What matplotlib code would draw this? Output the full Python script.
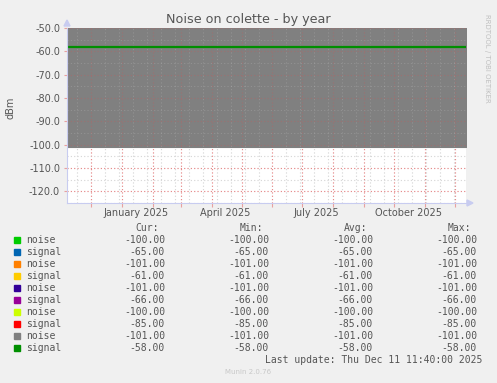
import matplotlib
matplotlib.use("Agg")
import matplotlib.pyplot as plt
import matplotlib.dates as mdates
import matplotlib.ticker as mticker
import pandas as pd

span = ["2024-11-07", "2025-12-12"]
names = ["noise", "signal", "noise", "signal", "noise",
         "signal", "noise", "signal", "noise", "signal"]
colors = ["#00CC00", "#0066B3", "#FF8000", "#FFCC00", "#330099",
          "#990099", "#CCFF00", "#FF0000", "#808080", "#008F00"]
cur = [-100, -65, -101, -61, -101, -66, -100, -85, -101, -58]
mins = [-100, -65, -101, -61, -101, -66, -100, -85, -101, -58]
avgs = [-100, -65, -101, -61, -101, -66, -100, -85, -101, -58]
maxs = [-100, -65, -101, -61, -101, -66, -100, -85, -101, -58]
xlabels = ["January 2025", "April 2025", "July 2025", "October 2025"]
xlabel_dates = ["2025-01-15", "2025-04-15", "2025-07-15", "2025-10-15"]

W, H = 497, 383
BG = "#F0F0F0"
TXT = "#555555"
AXC = "#C8CCF0"
MGRID = "#E8A0A0"
GRID = "#D0D0D0"
DOT = (0, (1, 2))

fig = plt.figure(figsize=(W / 100, H / 100), dpi=100, facecolor=BG)
ax = fig.add_axes([67 / W, (H - 203) / H, 399 / W, 175 / H])
ax.set_facecolor("white")

t = pd.to_datetime(span)
for i, (c, v) in enumerate(zip(colors, cur)):
    vals = [v, v]
    if i == 8:
        # grey noise is drawn as an area that hides the earlier lines
        ax.fill_between(t, vals, 0, facecolor=c, edgecolor=c, lw=0.8,
                        zorder=1)
    elif i == 9:
        ax.plot(t, vals, color=c, lw=1.6, zorder=4)
    else:
        ax.plot(t, vals, color=c, lw=0.5, zorder=0.8)

ax.set_xlim(t[0], t[1])
ax.set_ylim(-125, -50)

ax.set_axisbelow(True)
ax.yaxis.set_major_locator(mticker.MultipleLocator(10))
ax.yaxis.set_minor_locator(mticker.MultipleLocator(5))
ax.yaxis.set_major_formatter(mticker.FormatStrFormatter("%.1f"))
ax.xaxis.set_major_locator(mdates.MonthLocator(bymonthday=1))
ax.xaxis.set_major_formatter(mticker.NullFormatter())
weeks = pd.date_range("2024-11-17", "2025-12-11", freq="14D")
ax.xaxis.set_minor_locator(mticker.FixedLocator(mdates.date2num(weeks)))
ax.grid(which="major", color=MGRID, ls=DOT, lw=0.8)
ax.grid(which="minor", color=GRID, ls=DOT, lw=0.8)
ax.tick_params(axis="y", which="major", length=2, color=MGRID,
               labelsize=7, labelcolor=TXT, pad=3)
ax.tick_params(axis="x", which="major", length=3, color=MGRID,
               direction="out")
ax.tick_params(which="minor", length=0)

# faint copy of the grid on top of the grey area
faint_major = (0.88, 0.31, 0.31, 0.3)
faint_minor = (1, 1, 1, 0.15)
for y in ax.yaxis.get_minorticklocs():
    ax.axhline(y, color=faint_minor, ls=DOT, lw=0.8, zorder=2)
for x in ax.xaxis.get_minorticklocs():
    ax.axvline(x, color=faint_minor, ls=DOT, lw=0.8, zorder=2)
for y in ax.yaxis.get_majorticklocs():
    ax.axhline(y, color=faint_major, ls=DOT, lw=0.8, zorder=2)
for x in ax.xaxis.get_majorticklocs():
    ax.axvline(x, color=faint_major, ls=DOT, lw=0.8, zorder=2)

for s in ["top", "right"]:
    ax.spines[s].set_visible(False)
for s in ["left", "bottom"]:
    ax.spines[s].set_color(AXC)
    ax.spines[s].set_zorder(5)

for lab, d in zip(xlabels, xlabel_dates):
    ax.text(mdates.date2num(pd.Timestamp(d)), -0.03, lab,
            transform=ax.get_xaxis_transform(), ha="center", va="top",
            fontsize=7, color=TXT)

# axis arrows
fig.patches.append(plt.Polygon([[64 / W, (H - 26) / H], [70 / W, (H - 26) / H],
                                [67 / W, (H - 20) / H]], closed=True,
                               transform=fig.transFigure, color=AXC))
fig.patches.append(plt.Polygon([[467 / W, (H - 200) / H], [467 / W, (H - 206) / H],
                                [473 / W, (H - 203) / H]], closed=True,
                               transform=fig.transFigure, color=AXC))

fig.text(248 / W, 1 - 19 / H, "Noise on colette - by year", ha="center",
         va="center", fontsize=9.2, color=TXT)
fig.text(10 / W, 1 - 108 / H, "dBm", rotation=90, ha="center", va="center",
         fontsize=7, color=TXT)
fig.text(487 / W, 1 - 58 / H, "RRDTOOL / TOBI OETIKER", rotation=270,
         ha="center", va="center", fontsize=5, color="#C0C0C0")

# legend table
mono = "DejaVu Sans Mono"
cols_x = [165, 269, 373, 477]
for x, head in zip(cols_x, ["Cur:", "Min:", "Avg:", "Max:"]):
    fig.text((x - 6) / W, 1 - 228 / H, head, ha="right", va="center",
             fontsize=7, family=mono, color=TXT)
for k, name in enumerate(names):
    y = 1 - (240 + 12 * k) / H
    fig.patches.append(plt.Rectangle((14 / W, y - 3 / H), 6 / W, 6 / H,
                                     transform=fig.transFigure,
                                     color=colors[k]))
    fig.text(26 / W, y, name, ha="left", va="center", fontsize=7,
             family=mono, color=TXT)
    for x, arr in zip(cols_x, [cur, mins, avgs, maxs]):
        fig.text(x / W, y, f"{arr[k]:.2f}", ha="right", va="center",
                 fontsize=7, family=mono, color=TXT)

fig.text(482 / W, 1 - 360 / H, "Last update: Thu Dec 11 11:40:00 2025",
         ha="right", va="center", fontsize=7, family=mono, color=TXT)
fig.text(248 / W, 1 - 372 / H, "Munin 2.0.76", ha="center", va="center",
         fontsize=5, color="#C8C8C8")

fig.savefig("out.png", dpi=100, facecolor=BG)
